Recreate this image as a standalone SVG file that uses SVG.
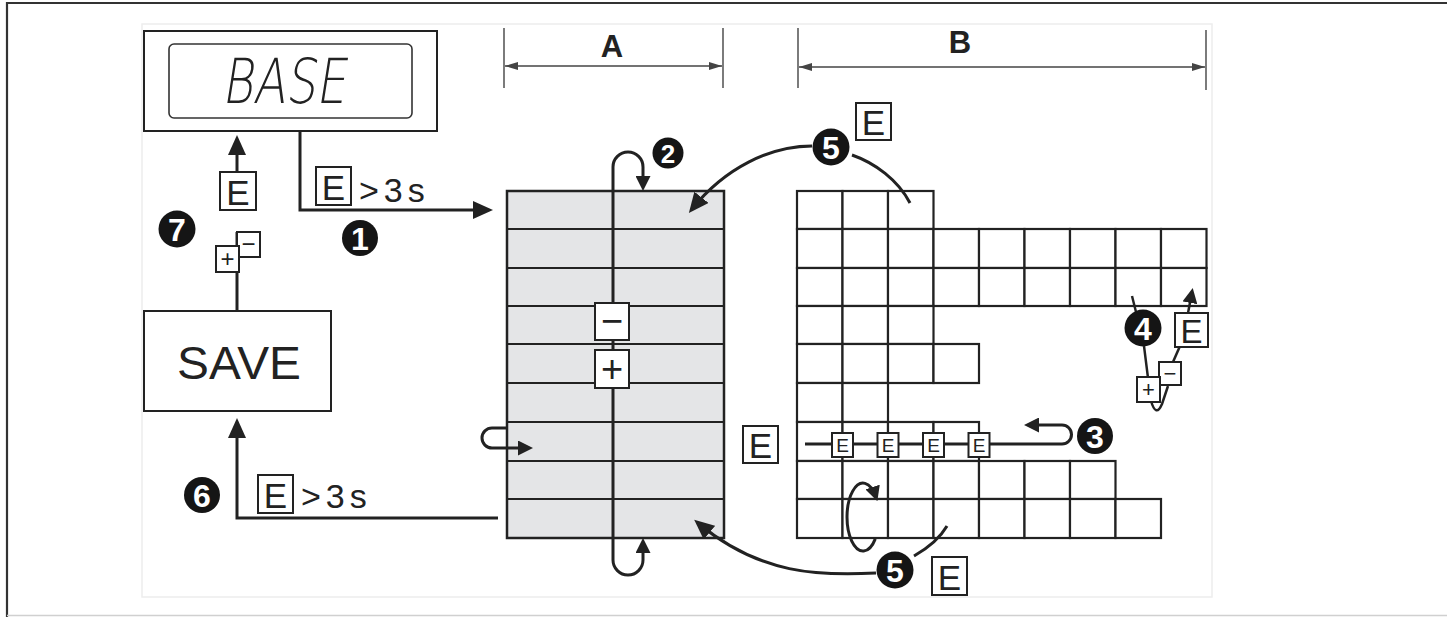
<svg xmlns="http://www.w3.org/2000/svg" width="1447" height="617" viewBox="0 0 1447 617">
<defs>
<marker id="ah" markerUnits="userSpaceOnUse" markerWidth="20" markerHeight="18" viewBox="0 0 20 18" refX="15" refY="9" orient="auto-start-reverse"><path d="M0,0 L20,9 L0,18 z" fill="#222"/></marker>
<marker id="ahs" markerUnits="userSpaceOnUse" markerWidth="15" markerHeight="15" viewBox="0 0 15 15" refX="11" refY="7.5" orient="auto-start-reverse"><path d="M0,0 L15,7.5 L0,15 z" fill="#222"/></marker>
<marker id="dm" markerUnits="userSpaceOnUse" markerWidth="13" markerHeight="8" viewBox="0 0 13 8" refX="13" refY="4" orient="auto-start-reverse"><path d="M0,0 L13,4 L0,8 z" fill="#444"/></marker>
</defs>
<style>
.ln{fill:none;stroke:#222;stroke-width:3}
.lnt{fill:none;stroke:#222;stroke-width:2.5}
.dim{fill:none;stroke:#444;stroke-width:1.4}
.box{fill:#fff;stroke:#222;stroke-width:2}
.cb rect{fill:#fff;stroke:#222;stroke-width:2.2}
.t{font-family:"Liberation Sans",Arial,sans-serif;fill:#222}
.num circle{fill:#151515}
.num text{font-family:"Liberation Sans",Arial,sans-serif;font-weight:bold;fill:#fff;text-anchor:middle}
.ek text{font-family:"Liberation Sans",Arial,sans-serif;fill:#222;text-anchor:middle}
</style>
<rect width="1447" height="617" fill="#fff"/>
<path d="M7,617 V3 H1447" fill="none" stroke="#333" stroke-width="2.2"/>
<line x1="7" y1="615.5" x2="1447" y2="615.5" stroke="#d0d0d0" stroke-width="1.5"/>
<rect x="142" y="24" width="1070" height="573" fill="none" stroke="#ededed" stroke-width="1.5"/>

<g id="dim-A">
<line class="dim" x1="504" y1="28" x2="504" y2="88"/>
<line class="dim" x1="723" y1="28" x2="723" y2="88"/>
<line class="dim" x1="505" y1="66" x2="722" y2="66" marker-start="url(#dm)" marker-end="url(#dm)"/>
<text class="t" x="612" y="57" font-size="31" font-weight="bold" text-anchor="middle">A</text>
</g>
<g id="dim-B">
<line class="dim" x1="798" y1="28" x2="798" y2="88"/>
<line class="dim" x1="1206" y1="30" x2="1206" y2="90"/>
<line class="dim" x1="799" y1="67" x2="1205" y2="67" marker-start="url(#dm)" marker-end="url(#dm)"/>
<text class="t" x="960" y="53" font-size="31" font-weight="bold" text-anchor="middle">B</text>
</g>

<g id="base">
<rect class="box" x="144" y="31" width="293" height="100" stroke-width="2.5"/>
<rect x="169" y="44" width="243" height="74" rx="5" fill="#fff" stroke="#333" stroke-width="1.6"/>
<text transform="translate(283.5,103) skewX(-9)" x="0" y="0" font-family="'DejaVu Sans',sans-serif" font-weight="200" font-size="62" text-anchor="middle" textLength="124" lengthAdjust="spacingAndGlyphs" fill="#222">BASE</text>
</g>

<g id="save">
<rect class="box" x="144" y="311" width="187" height="100"/>
<text class="t" x="239" y="379" font-size="47" text-anchor="middle" textLength="124" lengthAdjust="spacingAndGlyphs">SAVE</text>
</g>

<g id="grid-A">
<rect x="507" y="191" width="217" height="347" fill="#e4e5e7" stroke="#222" stroke-width="2.5"/>
<path d="M507,229H724M507,268H724M507,306H724M507,344H724M507,383H724M507,422H724M507,461H724M507,499H724" stroke="#222" stroke-width="2.2" fill="none"/>
</g>

<g id="grid-B" class="cb">
<rect x="797" y="191" width="45.5" height="38"/><rect x="842.5" y="191" width="45.5" height="38"/><rect x="888" y="191" width="45.5" height="38"/>
<rect x="797" y="229" width="45.5" height="39"/><rect x="842.5" y="229" width="45.5" height="39"/><rect x="888" y="229" width="45.5" height="39"/><rect x="933.5" y="229" width="45.5" height="39"/><rect x="979" y="229" width="45.5" height="39"/><rect x="1024.5" y="229" width="45.5" height="39"/><rect x="1070" y="229" width="45.5" height="39"/><rect x="1115.5" y="229" width="45.5" height="39"/><rect x="1161" y="229" width="45.5" height="39"/>
<rect x="797" y="268" width="45.5" height="38"/><rect x="842.5" y="268" width="45.5" height="38"/><rect x="888" y="268" width="45.5" height="38"/><rect x="933.5" y="268" width="45.5" height="38"/><rect x="979" y="268" width="45.5" height="38"/><rect x="1024.5" y="268" width="45.5" height="38"/><rect x="1070" y="268" width="45.5" height="38"/><rect x="1115.5" y="268" width="45.5" height="38"/><rect x="1161" y="268" width="45.5" height="38"/>
<rect x="797" y="306" width="45.5" height="38"/><rect x="842.5" y="306" width="45.5" height="38"/><rect x="888" y="306" width="45.5" height="38"/>
<rect x="797" y="344" width="45.5" height="39"/><rect x="842.5" y="344" width="45.5" height="39"/><rect x="888" y="344" width="45.5" height="39"/><rect x="933.5" y="344" width="45.5" height="39"/>
<rect x="797" y="383" width="45.5" height="39"/><rect x="842.5" y="383" width="45.5" height="39"/>
<rect x="797" y="422" width="45.5" height="39"/><rect x="842.5" y="422" width="45.5" height="39"/><rect x="888" y="422" width="45.5" height="39"/><rect x="933.5" y="422" width="45.5" height="39"/>
<rect x="797" y="461" width="45.5" height="38"/><rect x="842.5" y="461" width="45.5" height="38"/><rect x="888" y="461" width="45.5" height="38"/><rect x="933.5" y="461" width="45.5" height="38"/><rect x="979" y="461" width="45.5" height="38"/><rect x="1024.5" y="461" width="45.5" height="38"/><rect x="1070" y="461" width="45.5" height="38"/>
<rect x="797" y="499" width="45.5" height="39"/><rect x="842.5" y="499" width="45.5" height="39"/><rect x="888" y="499" width="45.5" height="39"/><rect x="933.5" y="499" width="45.5" height="39"/><rect x="979" y="499" width="45.5" height="39"/><rect x="1024.5" y="499" width="45.5" height="39"/><rect x="1070" y="499" width="45.5" height="39"/><rect x="1115.5" y="499" width="45.5" height="39"/>
</g>

<g id="connectors">
<path class="ln" d="M300,131 V210 H488" marker-end="url(#ah)"/>
<path class="ln" d="M498,518 H237 V423" marker-end="url(#ah)"/>
<path class="ln" d="M237,311 V232"/>
<path class="ln" d="M237,172 V140" marker-end="url(#ah)"/>
<path class="ln" d="M643,187 V167 A15,15 0 0 0 613,167 V560 A15,15 0 0 0 643,560 V542" marker-start="url(#ahs)" marker-end="url(#ahs)"/>
<path class="ln" d="M507,428 H492 A10,10 0 0 0 492,448 H529" marker-end="url(#ahs)"/>
<path class="ln" d="M812,146 C770,146 725,168 692,209" marker-end="url(#ah)"/>
<path class="ln" d="M852,155 C875,163 898,180 910,203"/>
<path class="ln" d="M876,573 C820,576 760,575 698,523" marker-end="url(#ah)"/>
<path class="ln" d="M914,556 C928,548 940,538 947,526"/>
<path class="ln" d="M875.3,538.9 A16,34 0 1 1 876.1,497.5" marker-end="url(#ahs)"/>
<path class="ln" d="M805,444 H1062 A9.5,9.5 0 0 0 1062,425 H1028" marker-end="url(#ahs)"/>
<path class="lnt" d="M1132,296 L1136,312"/>
<path class="lnt" d="M1144,346 L1148,378"/>
<path class="lnt" d="M1151,401 Q1156,418 1162,404 L1168,386"/>
<path class="lnt" d="M1173,362 L1180,346"/>
<path class="lnt" d="M1188,313 L1192,292" marker-end="url(#ahs)"/>
</g>

<g id="keys" class="ek">
<rect class="box" x="316" y="167" width="35" height="38"/><text x="333.5" y="200" font-size="35">E</text>
<rect class="box" x="220" y="172" width="36" height="38"/><text x="238" y="205" font-size="35">E</text>
<rect class="box" x="237" y="232" width="23" height="25" stroke-width="1.6"/><text x="248.5" y="252" font-size="24">−</text>
<rect class="box" x="216" y="246" width="23" height="26" stroke-width="1.6"/><text x="227.5" y="267" font-size="24">+</text>
<rect class="box" x="258" y="475" width="35" height="38"/><text x="275.5" y="508" font-size="35">E</text>
<rect class="box" x="595" y="303" width="34" height="37"/><text x="612" y="334" font-size="38">−</text>
<rect class="box" x="595" y="350" width="34" height="38"/><text x="612" y="382" font-size="38">+</text>
<rect class="box" x="856" y="103" width="35" height="37"/><text x="873.5" y="135" font-size="35">E</text>
<rect class="box" x="743" y="426" width="35" height="37"/><text x="760.5" y="458" font-size="35">E</text>
<rect class="box" x="932" y="557" width="35" height="38"/><text x="949.5" y="590" font-size="35">E</text>
<rect class="box" x="1175" y="313" width="33" height="34"/><text x="1191.5" y="343" font-size="33">E</text>
<rect class="box" x="1159" y="362" width="22" height="23" stroke-width="1.6"/><text x="1170" y="381" font-size="22">−</text>
<rect class="box" x="1137" y="377" width="23" height="25" stroke-width="1.6"/><text x="1148.5" y="397" font-size="22">+</text>
<rect class="box" x="832" y="433" width="21" height="24" stroke-width="1.6"/><text x="842.5" y="452" font-size="19">E</text>
<rect class="box" x="877.5" y="433" width="21" height="24" stroke-width="1.6"/><text x="888" y="452" font-size="19">E</text>
<rect class="box" x="923" y="433" width="21" height="24" stroke-width="1.6"/><text x="933.5" y="452" font-size="19">E</text>
<rect class="box" x="968.5" y="433" width="21" height="24" stroke-width="1.6"/><text x="979" y="452" font-size="19">E</text>
</g>

<g id="labels">
<text class="t" x="359" y="202" font-size="34" letter-spacing="5">&gt;3s</text>
<text class="t" x="301" y="508" font-size="34" letter-spacing="5">&gt;3s</text>
</g>

<g id="numbers" class="num">
<g id="n1"><circle cx="360" cy="238" r="18"/><text x="360" y="249.5" font-size="32">1</text></g>
<g id="n2"><circle cx="668" cy="153" r="15.5"/><text x="668" y="162.5" font-size="26">2</text></g>
<g id="n3"><circle cx="1095" cy="436" r="18"/><text x="1095" y="447.5" font-size="32">3</text></g>
<g id="n4"><circle cx="1143" cy="328" r="18.5"/><text x="1143" y="339.5" font-size="32">4</text></g>
<g id="n5a"><circle cx="831" cy="147" r="18.5"/><text x="831" y="158.5" font-size="32">5</text></g>
<g id="n5b"><circle cx="895" cy="570" r="18.5"/><text x="895" y="581.5" font-size="32">5</text></g>
<g id="n6"><circle cx="202" cy="495" r="18"/><text x="202" y="506.5" font-size="32">6</text></g>
<g id="n7"><circle cx="177" cy="229" r="18.5"/><text x="177" y="240.5" font-size="32">7</text></g>
</g>
</svg>
